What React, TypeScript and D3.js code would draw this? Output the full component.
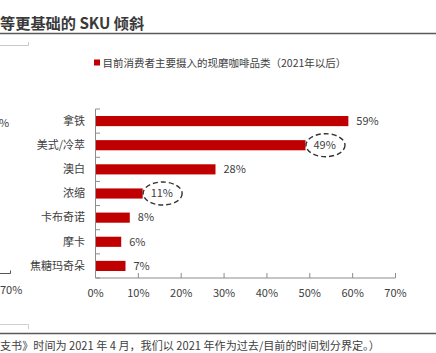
import React from "react";
import * as d3 from "d3";

const categories = ["拿铁", "美式/冷萃", "澳白", "浓缩", "卡布奇诺", "摩卡", "焦糖玛奇朵"];
const values = [0.59, 0.49, 0.28, 0.11, 0.08, 0.06, 0.07];
const highlighted = ["美式/冷萃", "浓缩"];
const xTicks = [0, 0.1, 0.2, 0.3, 0.4, 0.5, 0.6, 0.7];
const legendLabel = "目前消费者主要摄入的现磨咖啡品类（2021年以后）";
const titleText = "等更基础的 SKU 倾斜";
const footText = "支书》时间为 2021 年 4 月，我们以 2021 年作为过去/目前的时间划分界定。）";

const W = 436;
const H = 353;
const FONT = "'Noto Sans CJK SC', 'Noto Sans', sans-serif";
const RED = "#C00000";
const TEXT = "#404040";
const AXIS = "#8c8c8c";

export default function App() {
  const x = d3.scaleLinear().domain([0, 0.7]).range([95.5, 395.5]);
  const y = d3
    .scaleBand<string>()
    .domain(categories)
    .range([109, 278])
    .paddingInner(0.58)
    .paddingOuter(0.29);
  const step = y.step();
  const y0 = y.range()[0];
  const y1 = y.range()[1];
  const fmt = d3.format(".0%");

  return (
    <svg
      width={W}
      height={H}
      style={{ position: "absolute", left: 0, top: 0, display: "block", background: "#fff" }}
      fontFamily={FONT}
    >
      {/* title */}
      <text x={0} y={29} fontSize={15.2} fontWeight="bold" fill="#3a3a3a">
        {titleText}
      </text>
      <line x1={0} x2={W} y1={33.5} y2={33.5} stroke="#5a5a5a" strokeWidth={1.5} />

      {/* left fragments */}
      <path d="M0,45.5 H28.5 V42" fill="none" stroke="#c8c8c8" strokeWidth={1} />
      <path d="M0,324.5 H28.5 V329" fill="none" stroke="#d0d0d0" strokeWidth={1} />
      <text x={-1} y={127} fontSize={11} fill={TEXT}>%</text>
      <path d="M0,273.5 H10.5 V270.5" fill="none" stroke="#555" strokeWidth={1} />
      <text x={0} y={294} fontSize={11} fill={TEXT}>70%</text>

      {/* legend */}
      <rect x={94} y={59.5} width={6} height={6} fill={RED} />
      <text x={102.5} y={66.5} fontSize={10.5} fill={TEXT}>
        {legendLabel}
      </text>

      {/* bars */}
      {categories.map((c, i) => (
        <rect
          key={c}
          x={x(0)}
          y={y(c)!}
          width={x(values[i]) - x(0)}
          height={y.bandwidth()}
          fill={RED}
        />
      ))}

      {/* y axis */}
      <line x1={x(0)} x2={x(0)} y1={y0} y2={y1} stroke={AXIS} strokeWidth={1} />
      {d3.range(categories.length + 1).map((k) => (
        <line
          key={k}
          x1={x(0)}
          x2={x(0) + 4.5}
          y1={y0 + k * step}
          y2={y0 + k * step}
          stroke={AXIS}
          strokeWidth={1}
        />
      ))}
      {categories.map((c) => (
        <text
          key={c}
          x={85}
          y={y(c)! + y.bandwidth() / 2}
          dy="0.35em"
          textAnchor="end"
          fontSize={11}
          fill={TEXT}
        >
          {c}
        </text>
      ))}

      {/* x axis */}
      <line x1={x(0)} x2={x(0.7)} y1={y1} y2={y1} stroke={AXIS} strokeWidth={1} />
      {xTicks.map((t) => (
        <g key={t}>
          <line x1={x(t)} x2={x(t)} y1={y1} y2={y1 - 5} stroke={AXIS} strokeWidth={1} />
          <text x={x(t)} y={293} dy="0.35em" textAnchor="middle" fontSize={11} fill={TEXT}>
            {fmt(t)}
          </text>
        </g>
      ))}

      {/* value labels */}
      {categories.map((c, i) => {
        const cy = y(c)! + y.bandwidth() / 2;
        const lx = x(values[i]) + 8;
        const hl = highlighted.includes(c);
        return (
          <g key={c}>
            <text x={lx} y={cy} dy="0.35em" fontSize={11} fill={TEXT}>
              {fmt(values[i])}
            </text>
            {hl && (
              <ellipse
                cx={x(values[i]) + 20}
                cy={cy}
                rx={19.5}
                ry={11.5}
                fill="none"
                stroke="#333"
                strokeWidth={1.4}
                strokeDasharray="5 3"
              />
            )}
          </g>
        );
      })}

      {/* footer */}
      <line x1={0} x2={W} y1={333.5} y2={333.5} stroke="#5a5a5a" strokeWidth={1.5} />
      <text x={0} y={350} fontSize={11.1} fill={TEXT}>
        {footText}
      </text>
    </svg>
  );
}
